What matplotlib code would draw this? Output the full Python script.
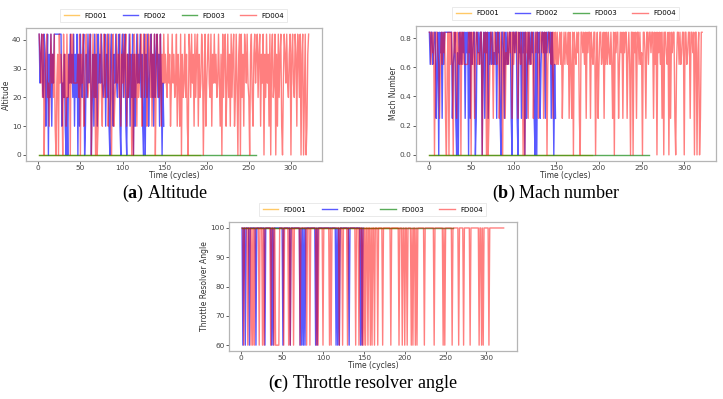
import numpy as np
import matplotlib
matplotlib.use("Agg")
import matplotlib.pyplot as plt

plt.rcParams["mathtext.fontset"] = "custom"
plt.rcParams["mathtext.bf"] = "Liberation Serif:bold"
plt.rcParams["mathtext.rm"] = "Liberation Serif"

# operating condition levels: 0..5
ALT_LEVELS = [0, 10, 20, 25, 35, 42]
MACH_LEVELS = [0.0, 0.25, 0.70, 0.62, 0.84, 0.84]
TRA_LEVELS = [100, 100, 100, 60, 100, 100]

# FD001 / FD003 run at a single condition (sea level)
FD001_CYCLES = 192
FD003_CYCLES = 259
SINGLE_COND = 0

# condition per cycle for FD002 (149 cycles)
FD002_COND = [
    5, 3, 4, 5, 3, 2, 5, 4, 1, 3, 5, 0, 4, 2, 5, 1, 4, 3, 5, 5,
    5, 5, 5, 5, 5, 5, 5, 1, 3, 2, 4, 1, 0, 2, 0, 4, 3, 5, 3, 4,
    2, 5, 1, 4, 2, 5, 0, 4, 1, 5, 3, 2, 4, 5, 0, 1, 4, 2, 5, 3,
    4, 5, 0, 2, 4, 1, 5, 2, 4, 1, 5, 3, 4, 3, 5, 3, 2, 3, 5, 1,
    4, 2, 5, 1, 0, 4, 5, 2, 1, 4, 3, 5, 3, 2, 4, 5, 1, 0, 4, 5,
    2, 4, 5, 1, 0, 4, 2, 5, 1, 4, 2, 5, 0, 4, 1, 3, 5, 3, 4, 3,
    5, 2, 4, 1, 0, 5, 0, 4, 2, 5, 1, 3, 4, 5, 2, 4, 1, 5, 2, 4,
    5, 2, 4, 1, 5, 3, 0, 3, 1,
]

# condition per cycle for FD004 (321 cycles)
FD004_COND = [
    5, 4, 3, 5, 2, 5, 0, 3, 4, 5, 2, 3, 1, 3, 5, 3, 4, 2, 5, 1,
    0, 3, 4, 0, 5, 3, 4, 3, 0, 5, 2, 4, 1, 5, 2, 3, 4, 0, 5, 3,
    5, 3, 3, 3, 3, 3, 4, 2, 5, 0, 4, 3, 5, 1, 2, 4, 5, 3, 2, 3,
    5, 4, 0, 3, 5, 2, 4, 0, 5, 0, 1, 3, 4, 5, 2, 1, 4, 5, 2, 3,
    4, 5, 1, 3, 5, 2, 0, 4, 5, 1, 2, 3, 5, 3, 4, 2, 5, 1, 4, 3,
    5, 2, 4, 5, 1, 4, 2, 3, 5, 3, 0, 4, 0, 5, 2, 4, 1, 5, 2, 3,
    4, 5, 1, 3, 5, 2, 4, 5, 1, 3, 5, 4, 2, 5, 1, 4, 2, 5, 0, 3,
    5, 4, 2, 3, 5, 1, 4, 3, 5, 3, 4, 3, 2, 5, 3, 4, 1, 3, 5, 3,
    4, 2, 3, 5, 1, 4, 3, 1, 5, 0, 4, 2, 3, 5, 2, 4, 1, 0, 5, 4,
    2, 5, 3, 4, 1, 5, 2, 4, 5, 1, 4, 2, 3, 5, 4, 0, 3, 5, 1, 3,
    4, 5, 3, 2, 5, 1, 4, 3, 5, 3, 4, 2, 3, 5, 3, 1, 4, 0, 5, 2,
    4, 5, 1, 3, 5, 2, 4, 1, 5, 2, 4, 5, 1, 2, 5, 3, 0, 4, 5, 0,
    5, 2, 4, 1, 5, 4, 3, 5, 3, 2, 0, 4, 5, 2, 1, 4, 5, 3, 4, 5,
    2, 4, 5, 1, 4, 3, 5, 0, 4, 2, 5, 3, 4, 1, 5, 0, 4, 5, 2, 3,
    5, 0, 4, 1, 5, 2, 4, 5, 1, 0, 3, 5, 4, 3, 5, 3, 2, 4, 5, 0,
    4, 5, 3, 2, 5, 4, 1, 5, 4, 2, 5, 0, 4, 5, 0, 2, 5, 0, 1, 4, 5,
]

DATASETS = ["FD001", "FD002", "FD003", "FD004"]
COLORS = ["orange", "blue", "green", "red"]
ALPHAS = [0.6, 0.65, 0.65, 0.5]
Y_LABELS = ["Altitude", "Mach Number", "Throttle Resolver Angle"]
CAPTIONS = [r"($\mathbf{a}$) Altitude", r"($\mathbf{b}$) Mach number",
            r"($\mathbf{c}$) Throttle resolver angle"]

conds = [
    np.full(FD001_CYCLES, SINGLE_COND),
    np.array(FD002_COND),
    np.full(FD003_CYCLES, SINGLE_COND),
    np.array(FD004_COND),
]
level_tables = [np.array(ALT_LEVELS), np.array(MACH_LEVELS), np.array(TRA_LEVELS)]

fig = plt.figure(figsize=(7.23, 3.99), dpi=100)
ax_rects = [
    [0.0355, 0.5965, 0.410, 0.333],
    [0.575, 0.5965, 0.415, 0.338],
    [0.3167, 0.1203, 0.398, 0.323],
]
caption_pos = [(0.228, 0.514), (0.770, 0.514), (0.502, 0.038)]

for i in range(3):
    ax = fig.add_axes(ax_rects[i])
    for name, c, col, a in zip(DATASETS, conds, COLORS, ALPHAS):
        t = np.arange(1, len(c) + 1)
        ax.plot(t, level_tables[i][c], color=col, alpha=a, lw=1.0, label=name)
    ax.set_xlabel("Time (cycles)", fontsize=5.5, labelpad=0, color="#333333")
    ax.set_ylabel(Y_LABELS[i], fontsize=5.5, labelpad=1, color="#333333")
    ax.tick_params(labelsize=5.3, length=2, width=0.6, pad=1,
                   colors="#444444")
    for s in ax.spines.values():
        s.set_color("#b5b5b5")
        s.set_linewidth(0.9)
    leg = ax.legend(loc="lower center", bbox_to_anchor=(0.5, 1.02), ncol=4,
                    fontsize=5, frameon=True, handlelength=2.2,
                    columnspacing=2.2, borderpad=0.5, fancybox=False)
    leg.get_frame().set_edgecolor("#e0e0e0")
    leg.get_frame().set_linewidth(0.6)
    fig.text(caption_pos[i][0], caption_pos[i][1], CAPTIONS[i],
             fontsize=13, family="Liberation Serif", ha="center", va="center")

fig.savefig("out.png", dpi=100)
